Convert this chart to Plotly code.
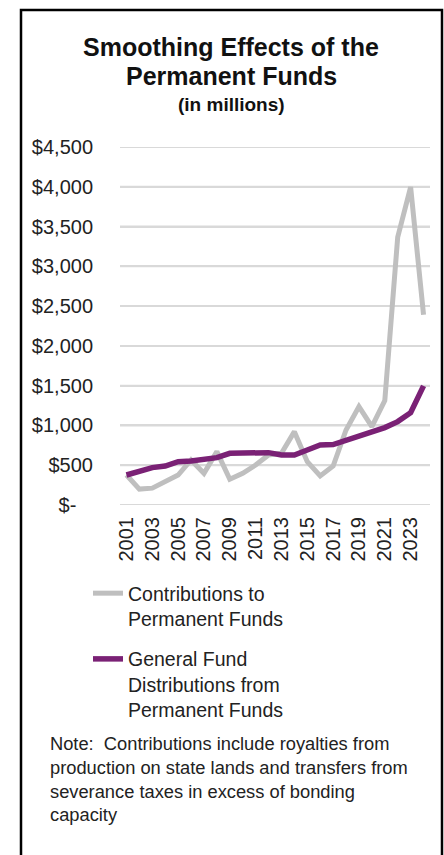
import plotly.graph_objects as go

years = [str(y) for y in range(2001, 2025)]
contributions = [377, 200, 212, 294, 377, 566, 398, 671, 323, 398, 503, 629,
                 650, 922, 545, 365, 490, 943, 1237, 985, 1312, 3367, 3996, 2390]
distributions = [377, 432, 470, 490, 545, 553, 566, 595, 650, 650, 650, 658,
                 629, 629, 692, 755, 759, 809, 872, 922, 973, 1048, 1161, 1497]
y_tick_vals = [0, 500, 1000, 1500, 2000, 2500, 3000, 3500, 4000, 4500]
y_tick_text = ["$-\u00a0\u00a0\u00a0", "$500", "$1,000", "$1,500", "$2,000", "$2,500",
               "$3,000", "$3,500", "$4,000", "$4,500"]
x_tick_vals = [str(y) for y in range(2001, 2025, 2)]

FONT = "Liberation Sans, Arial, sans-serif"
W, H = 444, 855
L, R, T, B = 120, 14, 147, 350
PW, PH = W - L - R, H - T - B
GRID = "#D9D9D9"


def px(x):
    return (x - L) / PW


def py(y):
    return (H - B - y) / PH


fig = go.Figure()
fig.add_trace(go.Scatter(
    x=years, y=contributions, mode="lines", name="Contributions to<br>Permanent Funds",
    line=dict(color="#BFBFBF", width=5), legendgroup="a"))
fig.add_trace(go.Scatter(
    x=years, y=distributions, mode="lines",
    name="General Fund<br>Distributions from<br>Permanent Funds",
    line=dict(color="#7A2175", width=5.5), legendgroup="b"))

fig.update_layout(
    template="none",
    width=W, height=H,
    margin=dict(l=L, r=R, t=T, b=B, autoexpand=False),
    paper_bgcolor="white", plot_bgcolor="white",
    font=dict(family=FONT, size=20, color="#222222"),
    hovermode=False,
    showlegend=True,
    legend=dict(x=px(88), y=py(574), xanchor="left", yanchor="top",
                font=dict(size=19.5, color="#222222"), valign="top",
                tracegroupgap=12, bgcolor="rgba(0,0,0,0)", borderwidth=0),
    xaxis=dict(type="category", range=[-0.5, 23.5], tickmode="array",
               tickvals=x_tick_vals, ticktext=x_tick_vals, tickangle=-90,
               showgrid=False, zeroline=False, showline=False,
               ticks="outside", ticklen=3, tickcolor="rgba(0,0,0,0)",
               tickfont=dict(size=20, color="#222222")),
    yaxis=dict(type="linear", range=[0, 4500], tickmode="array", tickvals=y_tick_vals,
               ticktext=y_tick_text, showgrid=True, gridcolor=GRID,
               gridwidth=2, zeroline=False, showline=False,
               ticks="outside", ticklen=22, tickcolor="rgba(0,0,0,0)",
               tickfont=dict(size=20, color="#222222")),
)

# horizontal gridlines at the y tick values (drawn explicitly so they always render)
for v in y_tick_vals:
    fig.add_shape(type="line", xref="paper", yref="y", x0=0, x1=1, y0=v, y1=v,
                  line=dict(color=GRID, width=2), layer="below")

ann = [
    dict(text="<b>Smoothing Effects of the</b>", x=px(231), y=py(47), size=25),
    dict(text="<b>Permanent Funds</b>", x=px(231), y=py(76), size=25),
    dict(text="<b>(in millions)</b>", x=px(231), y=py(104), size=19),
]
for a in ann:
    fig.add_annotation(text=a["text"], x=a["x"], y=a["y"], xref="paper", yref="paper",
                       xanchor="center", yanchor="middle", showarrow=False,
                       font=dict(family=FONT, size=a["size"], color="#111111"))

fig.add_annotation(
    text="Note:  Contributions include royalties from<br>production on state lands and transfers from"
         "<br>severance taxes in excess of bonding<br>capacity",
    x=px(48), y=py(731), xref="paper", yref="paper", xanchor="left", yanchor="top",
    align="left", showarrow=False, font=dict(family=FONT, size=18.3, color="#222222"))

fig.add_shape(type="rect", xref="paper", yref="paper",
              x0=px(21), x1=px(442), y0=py(10), y1=py(880),
              line=dict(color="black", width=2.5), fillcolor="rgba(0,0,0,0)", layer="above")

fig.write_html("out.html", config={"displayModeBar": False},
               post_script="document.body.style.margin='0';document.body.style.padding='0';")
